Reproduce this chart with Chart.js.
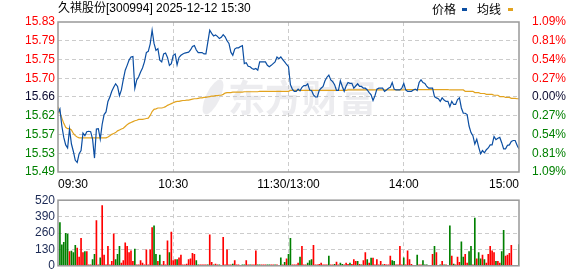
<!DOCTYPE html>
<html>
<head>
<meta charset="utf-8">
<script src="https://cdn.jsdelivr.net/npm/chart.js@4.4.1/dist/chart.umd.min.js"></script>
<style>
html, body { margin: 0; padding: 0; background: #fff; }
#wrap { position: relative; width: 578px; height: 276px; overflow: hidden; }
#priceChart { position: absolute; left: 0; top: 0; }
#volumeChart { position: absolute; left: 0; top: 190px; }
</style>
</head>
<body>
<div id="wrap">
    <canvas id="priceChart" width="578" height="190"></canvas>
    <canvas id="volumeChart" width="578" height="86"></canvas>
</div>
<script>
const title = '久祺股份[300994] 2025-12-12 15:30'
const prevClose = 15.66
const limitPct = 1.09

const timeLabels = ['09:30', '10:30', '11:30/13:00', '14:00', '15:00']
const timeTickPos = [0, 60, 120, 180, 240]
// bottom to top
const priceTickLabels = ['15.49', '15.53', '15.57', '15.62', '15.66', '15.70', '15.75', '15.79', '15.83']
const pctTickLabels = ['1.09%', '0.81%', '0.54%', '0.27%', '0.00%', '0.27%', '0.54%', '0.81%', '1.09%']
const volumeTicks = [0, 130, 260, 390, 520]

const prices = [
    15.624, 15.633, 15.594, 15.568, 15.551, 15.544, 15.587, 15.553, 15.536, 15.516,
    15.511, 15.531, 15.538, 15.578, 15.572, 15.581, 15.582, 15.581, 15.564, 15.521,
    15.587, 15.588, 15.564, 15.598, 15.620, 15.626, 15.650, 15.660, 15.673, 15.682,
    15.690, 15.684, 15.663, 15.676, 15.700, 15.721, 15.732, 15.744, 15.751, 15.752,
    15.680, 15.699, 15.706, 15.717, 15.726, 15.740, 15.761, 15.764, 15.781, 15.812,
    15.782, 15.766, 15.770, 15.744, 15.740, 15.758, 15.760, 15.750, 15.732, 15.736,
    15.755, 15.758, 15.733, 15.750, 15.755, 15.758, 15.760, 15.761, 15.762, 15.767,
    15.775, 15.777, 15.767, 15.761, 15.761, 15.761, 15.758, 15.758, 15.785, 15.812,
    15.805, 15.799, 15.801, 15.798, 15.793, 15.796, 15.802, 15.797, 15.788, 15.782,
    15.762, 15.755, 15.769, 15.772, 15.772, 15.775, 15.777, 15.736, 15.738, 15.730,
    15.729, 15.725, 15.723, 15.725, 15.721, 15.740, 15.740, 15.740, 15.740, 15.732,
    15.729, 15.732, 15.736, 15.740, 15.751, 15.747, 15.751, 15.745, 15.740, 15.734,
    15.729, 15.688, 15.678, 15.673, 15.673, 15.678, 15.674, 15.682, 15.686, 15.686,
    15.690, 15.676, 15.675, 15.665, 15.660, 15.660, 15.675, 15.680, 15.684, 15.697,
    15.705, 15.710, 15.699, 15.695, 15.688, 15.675, 15.675, 15.697, 15.684, 15.673,
    15.685, 15.693, 15.691, 15.691, 15.680, 15.685, 15.690, 15.684, 15.684, 15.680,
    15.680, 15.676, 15.670, 15.665, 15.652, 15.663, 15.678, 15.680, 15.680, 15.680,
    15.673, 15.676, 15.680, 15.682, 15.693, 15.678, 15.676, 15.676, 15.676, 15.680,
    15.691, 15.676, 15.673, 15.673, 15.673, 15.676, 15.678, 15.675, 15.693, 15.699,
    15.693, 15.691, 15.684, 15.680, 15.680, 15.680, 15.661, 15.658, 15.656, 15.650,
    15.658, 15.653, 15.650, 15.650, 15.638, 15.650, 15.643, 15.643, 15.654, 15.658,
    15.635, 15.623, 15.623, 15.620, 15.594, 15.579, 15.572, 15.553, 15.564, 15.546,
    15.531, 15.538, 15.533, 15.540, 15.544, 15.551, 15.551, 15.570, 15.563, 15.566,
    15.568, 15.556, 15.542, 15.542, 15.550, 15.551, 15.559, 15.561, 15.561, 15.550, 15.542
]

const avgPrices = [
    15.638, 15.624, 15.612, 15.600, 15.591, 15.588, 15.588, 15.585, 15.577, 15.572,
    15.569, 15.567, 15.567, 15.567, 15.567, 15.567, 15.567, 15.567, 15.567, 15.567,
    15.567, 15.567, 15.567, 15.567, 15.567, 15.567, 15.569, 15.572, 15.575, 15.577,
    15.579, 15.583, 15.585, 15.587, 15.589, 15.593, 15.597, 15.600, 15.602, 15.604,
    15.606, 15.607, 15.609, 15.609, 15.609, 15.610, 15.611, 15.612, 15.618, 15.627,
    15.632, 15.633, 15.635, 15.635, 15.635, 15.636, 15.638, 15.641, 15.643, 15.645,
    15.647, 15.649, 15.650, 15.650, 15.651, 15.652, 15.652, 15.653, 15.653, 15.654,
    15.655, 15.656, 15.656, 15.657, 15.658, 15.658, 15.659, 15.659, 15.660, 15.661,
    15.662, 15.662, 15.663, 15.663, 15.664, 15.664, 15.666, 15.669, 15.670, 15.670,
    15.670, 15.671, 15.671, 15.671, 15.671, 15.671, 15.671, 15.672, 15.672, 15.672,
    15.672, 15.672, 15.672, 15.672, 15.672, 15.673, 15.673, 15.673, 15.673, 15.673,
    15.673, 15.673, 15.673, 15.673, 15.673, 15.673, 15.673, 15.673, 15.673, 15.673,
    15.673, 15.675, 15.675, 15.675, 15.675, 15.675, 15.675, 15.675, 15.675, 15.675,
    15.675, 15.675, 15.675, 15.675, 15.675, 15.675, 15.675, 15.675, 15.675, 15.675,
    15.675, 15.675, 15.675, 15.675, 15.675, 15.675, 15.675, 15.675, 15.675, 15.675,
    15.675, 15.676, 15.676, 15.676, 15.676, 15.676, 15.676, 15.676, 15.676, 15.676,
    15.676, 15.676, 15.676, 15.676, 15.676, 15.676, 15.676, 15.676, 15.676, 15.676,
    15.676, 15.676, 15.676, 15.676, 15.676, 15.676, 15.676, 15.676, 15.676, 15.676,
    15.676, 15.677, 15.677, 15.677, 15.677, 15.677, 15.677, 15.677, 15.677, 15.677,
    15.677, 15.677, 15.677, 15.677, 15.677, 15.677, 15.677, 15.677, 15.677, 15.677,
    15.677, 15.677, 15.677, 15.677, 15.676, 15.676, 15.676, 15.676, 15.676, 15.676,
    15.676, 15.676, 15.673, 15.673, 15.673, 15.673, 15.673, 15.670, 15.670, 15.670,
    15.668, 15.668, 15.668, 15.666, 15.666, 15.666, 15.666, 15.664, 15.664, 15.664,
    15.661, 15.661, 15.661, 15.659, 15.659, 15.659, 15.657, 15.657, 15.657, 15.656, 15.656
]

const volumes = [
    0, 342, 166, 187, 258, 251, 112, 117, 105, 162,
    141, 70, 218, 105, 112, 112, 7, 7, 49, 91,
    358, 7, 63, 478, 84, 7, 155, 7, 35, 253,
    49, 91, 155, 21, 42, 183, 155, 105, 119, 35,
    133, 7, 7, 42, 21, 7, 126, 7, 126, 302,
    316, 91, 35, 84, 7, 35, 7, 197, 105, 267,
    42, 49, 49, 63, 84, 7, 7, 14, 49, 56,
    98, 91, 42, 7, 7, 7, 7, 7, 7, 246,
    28, 7, 14, 7, 7, 0, 225, 7, 126, 7,
    7, 14, 42, 7, 7, 0, 7, 7, 42, 7,
    7, 7, 7, 119, 7, 7, 7, 7, 7, 7,
    7, 7, 7, 7, 7, 0, 63, 7, 28, 56,
    91, 218, 7, 7, 7, 21, 70, 155, 7, 7,
    21, 42, 49, 162, 7, 7, 12, 21, 7, 7,
    7, 77, 7, 7, 12, 30, 7, 21, 12, 7,
    21, 12, 21, 12, 49, 35, 35, 12, 7, 42,
    105, 49, 21, 61, 61, 7, 49, 7, 35, 7,
    12, 7, 7, 77, 42, 35, 7, 7, 155, 7,
    63, 7, 119, 49, 12, 0, 0, 84, 7, 7,
    42, 7, 7, 0, 0, 91, 155, 105, 0, 7,
    35, 7, 7, 0, 316, 77, 14, 7, 70, 28,
    190, 70, 91, 21, 112, 155, 7, 379, 56, 105,
    56, 84, 49, 21, 91, 155, 119, 105, 35, 35,
    21, 112, 281, 77, 84, 98, 162, 0, 0, 0, 169
]

// R = up minute, G = down minute
const volumeSide = (
    'RGGGGGRGGG' + 'RRRRGRRRGG' + 'RRGRRRRRRR' + 'GGGRRRRRRR' + 'GRRRRRRRRR' +
    'GGRGRRRRGR' + 'RRGRRRRRRR' + 'RRGGRRRRGR' + 'RGRRGRRRRR' + 'RGRRRRGGRR' +
    'GRRRGGRRRG' + 'GRRGRRGRGR' + 'GGRRRRGRRR' + 'GGGRRRRRRR' + 'RGRRGRRGGR' +
    'RRGRRRGRGR' + 'RGRGRRRRRG' + 'RRRRGGRRRR' + 'GRRRRRRGRR' + 'GGGRRRGRRG' +
    'RGRRGRGRRR' + 'GGRRGGRGRG' + 'GRGRRRRRGR' + 'RGGRRRRRRRG'
).split('')

const RED = '#ff0000'
const GREEN = '#008000'
const DARK = '#0a0a30'
const GRID = '#cccccc'
const FONT = "'Liberation Sans', Arial, 'Noto Sans CJK SC', sans-serif"
const CJK = "'Noto Sans CJK SC', 'Liberation Sans', sans-serif"

const priceMin = prevClose * (1 - limitPct / 100)
const priceMax = prevClose * (1 + limitPct / 100)

const tickColor = (index) => index < 4 ? GREEN : (index == 4 ? DARK : RED)

const evenTicks = (min, max, n) => {
    const ticks = []
    for (let k = 0; k <= n; k++) {
        ticks.push({value: min + k * (max - min) / n})
    }
    return ticks
}

const frame = {
    id: 'frame',
    afterDraw: (chart) => {
        const {ctx, chartArea} = chart
        ctx.save()
        ctx.strokeStyle = '#999999'
        ctx.lineWidth = 1.5
        ctx.strokeRect(chartArea.left, chartArea.top, chartArea.right - chartArea.left, chartArea.bottom - chartArea.top)
        ctx.restore()
    }
}

const header = {
    id: 'header',
    beforeDatasetsDraw: (chart) => {
        const {ctx} = chart
        // watermark
        ctx.save()
        ctx.fillStyle = 'rgba(200, 200, 208, 0.35)'
        ctx.beginPath()
        ctx.ellipse(213, 97, 7, 19, 0.45, 0, Math.PI * 2)
        ctx.fill()
        ctx.font = 'bold 37px ' + CJK
        ctx.textBaseline = 'middle'
        ctx.fillText('东方财富', 228, 98)
        ctx.restore()
    },
    afterDraw: (chart) => {
        const {ctx} = chart
        ctx.save()
        ctx.fillStyle = '#000'
        ctx.textBaseline = 'middle'
        ctx.font = '12px ' + FONT
        ctx.fillText(title, 58, 9)
        ctx.font = '12px ' + CJK
        ctx.fillText('价格', 432, 9)
        ctx.fillText('均线', 477, 9)
        ctx.fillStyle = '#0b4ea2'
        ctx.fillRect(462, 8, 5, 3)
        ctx.fillStyle = '#e2a31f'
        ctx.fillRect(508, 8, 5, 3)
        ctx.restore()
    }
}

const xGridColor = (ctx) => {
    if (!ctx.tick) return GRID
    return (ctx.tick.value == 0 || ctx.tick.value == 240) ? 'rgba(0,0,0,0)' : GRID
}

new Chart(document.getElementById('priceChart'), {
    type: 'line',
    data: {
        datasets: [{
            label: '价格',
            data: prices.map((p, i) => ({x: i, y: p})),
            borderColor: '#0b4ea2',
            borderWidth: 1.2,
            pointRadius: 0,
            tension: 0,
            yAxisID: 'y'
        }, {
            label: '均线',
            data: avgPrices.map((p, i) => ({x: i, y: p})),
            borderColor: '#e2a31f',
            borderWidth: 1.2,
            pointRadius: 0,
            tension: 0,
            yAxisID: 'y'
        }]
    },
    options: {
        responsive: false,
        animation: false,
        devicePixelRatio: 1,
        layout: {padding: {top: 22, left: 0, right: 0, bottom: 0}},
        plugins: {legend: {display: false}, tooltip: {enabled: false}},
        scales: {
            x: {
                type: 'linear',
                min: 0,
                max: 240,
                afterBuildTicks: (scale) => { scale.ticks = timeTickPos.map(v => ({value: v})) },
                afterFit: (scale) => { scale.height = 18 },
                ticks: {
                    autoSkip: false,
                    maxRotation: 0,
                    align: 'inner',
                    padding: 5,
                    color: '#000',
                    font: {family: FONT, size: 12},
                    callback: (v, i) => timeLabels[i]
                },
                grid: {color: xGridColor, drawTicks: false, lineWidth: 1},
                border: {display: false, dash: [4, 3]}
            },
            y: {
                position: 'left',
                min: priceMin,
                max: priceMax,
                afterBuildTicks: (scale) => { scale.ticks = evenTicks(priceMin, priceMax, 8) },
                afterFit: (scale) => { scale.width = 58 },
                ticks: {
                    autoSkip: false,
                    padding: 3,
                    color: (ctx) => tickColor(ctx.index),
                    font: {family: FONT, size: 12},
                    callback: (v, i) => priceTickLabels[i]
                },
                grid: {
                    color: (ctx) => (ctx.index == 0 || ctx.index == 8) ? 'rgba(0,0,0,0)' : GRID,
                    drawTicks: false
                },
                border: {display: false, dash: [4, 3]}
            },
            y2: {
                position: 'right',
                min: -limitPct,
                max: limitPct,
                afterBuildTicks: (scale) => { scale.ticks = evenTicks(-limitPct, limitPct, 8) },
                afterFit: (scale) => { scale.width = 59 },
                ticks: {
                    autoSkip: false,
                    padding: 5,
                    color: (ctx) => tickColor(ctx.index),
                    font: {family: FONT, size: 12},
                    callback: (v, i) => pctTickLabels[8 - i]
                },
                grid: {display: false},
                border: {display: false}
            }
        }
    },
    plugins: [header, frame]
})

new Chart(document.getElementById('volumeChart'), {
    type: 'bar',
    data: {
        datasets: [{
            label: '成交量',
            data: volumes.map((v, i) => ({x: i, y: v})),
            backgroundColor: volumeSide.map(s => s == 'R' ? RED : GREEN),
            barThickness: 1,
            borderWidth: 0
        }]
    },
    options: {
        responsive: false,
        animation: false,
        devicePixelRatio: 1,
        layout: {padding: {top: 6, left: 0, right: 59, bottom: 6}},
        plugins: {legend: {display: false}, tooltip: {enabled: false}},
        scales: {
            x: {
                type: 'linear',
                min: 0,
                max: 240,
                offset: false,
                afterBuildTicks: (scale) => { scale.ticks = timeTickPos.map(v => ({value: v})) },
                afterFit: (scale) => { scale.height = 0 },
                ticks: {display: false},
                grid: {color: xGridColor, drawTicks: false, offset: false},
                border: {display: false, dash: [4, 3]}
            },
            y: {
                min: 0,
                max: 520,
                afterBuildTicks: (scale) => { scale.ticks = volumeTicks.map(v => ({value: v})) },
                afterFit: (scale) => { scale.width = 58 },
                ticks: {
                    autoSkip: false,
                    padding: 3,
                    color: '#1c2a55',
                    font: {family: FONT, size: 12},
                    callback: (v) => String(v)
                },
                grid: {
                    color: (ctx) => (ctx.index == 0 || ctx.index == 4) ? 'rgba(0,0,0,0)' : GRID,
                    drawTicks: false
                },
                border: {display: false, dash: [4, 3]}
            }
        }
    },
    plugins: [frame]
})
</script>
</body>
</html>
